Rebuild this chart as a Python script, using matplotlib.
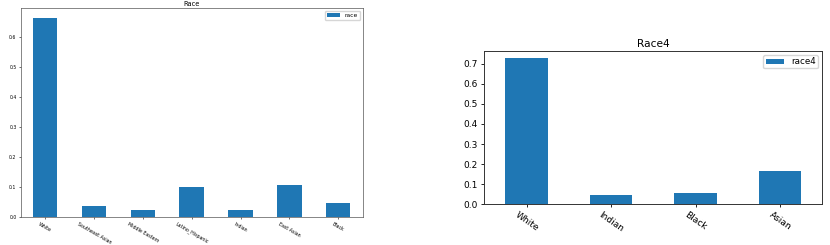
import matplotlib
matplotlib.use("Agg")
import matplotlib.pyplot as plt
import numpy as np

race_labels = ["White", "Southeast Asian", "Middle Eastern", "Latino_Hispanic", "Indian", "East Asian", "Black"]
race_values = [0.661, 0.038, 0.023, 0.099, 0.022, 0.108, 0.046]

race4_labels = ["White", "Indian", "Black", "Asian"]
race4_values = [0.730, 0.047, 0.053, 0.165]

color = "#1f77b4"

fig = plt.figure(figsize=(8.3, 2.45), dpi=100)

# Left chart
ax1 = fig.add_axes([20.7/830, 1 - 217/245, (362.7-20.7)/830, (217-8.3)/245])
x1 = np.arange(len(race_labels))
ax1.bar(x1, race_values, width=0.5, color=color, label="race")
ax1.set_xlim(-0.5, len(race_labels) - 0.5)
ax1.set_ylim(0, max(race_values) * 1.05)
ax1.set_xticks(x1)
ax1.set_xticklabels(race_labels, rotation=-30, ha="center", fontsize=3.4)
ax1.set_yticks([0.0, 0.1, 0.2, 0.3, 0.4, 0.5, 0.6])
ax1.tick_params(axis="y", labelsize=3.3, length=1.5, width=0.4, pad=1.5)
ax1.tick_params(axis="x", length=1.5, width=0.4, pad=1.5)
ax1.set_title("Race", fontsize=4.8, pad=1.5)
ax1.legend(loc="upper right", fontsize=4.3, handlelength=2.2, borderpad=0.3,
           handleheight=0.5, framealpha=0.8)
for s in ax1.spines.values():
    s.set_linewidth(0.5)
    s.set_color("#555555")

# Right chart
ax2 = fig.add_axes([484.3/830, 1 - 204/245, (822.3-484.3)/830, (204-50.7)/245])
x2 = np.arange(len(race4_labels))
ax2.bar(x2, race4_values, width=0.5, color=color, label="race4")
ax2.set_xlim(-0.5, len(race4_labels) - 0.5)
ax2.set_ylim(0, max(race4_values) * 1.05)
ax2.set_xticks(x2)
ax2.set_xticklabels(race4_labels, rotation=-35, ha="center", fontsize=6.5)
ax2.set_yticks([0.0, 0.1, 0.2, 0.3, 0.4, 0.5, 0.6, 0.7])
ax2.tick_params(axis="y", labelsize=6.5, length=2.5, width=0.6, pad=2)
ax2.tick_params(axis="x", length=2.5, width=0.6, pad=2)
ax2.set_title("Race4", fontsize=7.6, pad=3)
ax2.legend(loc="upper right", fontsize=6.3, handlelength=2.1, borderpad=0.25,
           handleheight=0.5, framealpha=0.8)
for s in ax2.spines.values():
    s.set_linewidth(0.7)
    s.set_color("#333333")

fig.savefig("out.png", dpi=100)
